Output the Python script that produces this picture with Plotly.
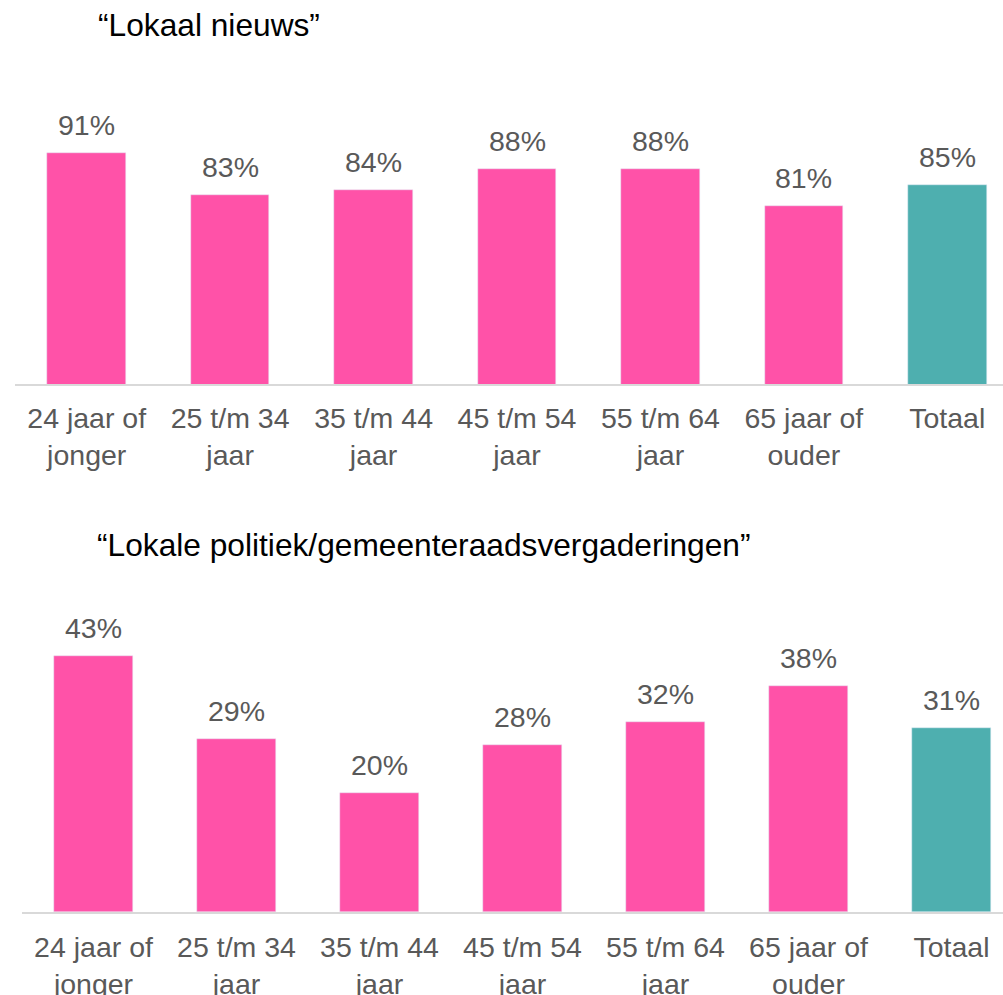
import plotly.graph_objects as go

categories = ["24 jaar of<br>jonger", "25 t/m 34<br>jaar", "35 t/m 44<br>jaar",
              "45 t/m 54<br>jaar", "55 t/m 64<br>jaar", "65 jaar of<br>ouder", "Totaal"]
lokaal_nieuws = [91, 83, 84, 88, 88, 81, 85]
lokale_politiek = [43, 29, 20, 28, 32, 38, 31]
title_top = "“Lokaal nieuws”"
title_bottom = "“Lokale politiek/gemeenteraadsvergaderingen”"

PINK = "#FF52A8"
TEAL = "#4EAFAF"
colors = [PINK] * 6 + [TEAL]

W, H = 1003, 995
FONT = "Liberation Sans, Arial, sans-serif"
GREY = "#595959"

def py(p):
    return 1 - p / H

fig = go.Figure()
fig.add_trace(go.Bar(x=categories, y=lokaal_nieuws, marker_color=colors,
                     width=0.547, xaxis="x", yaxis="y", showlegend=False,
                     hoverinfo="skip"))
fig.add_trace(go.Bar(x=categories, y=lokale_politiek, marker_color=colors,
                     width=0.548, xaxis="x2", yaxis="y2", showlegend=False,
                     hoverinfo="skip"))

annotations = []
for c, v in zip(categories, lokaal_nieuws):
    annotations.append(dict(x=c, y=v, xref="x", yref="y", text=f"{v}%",
                            showarrow=False, yanchor="middle", yshift=28,
                            font=dict(family=FONT, size=28.5, color=GREY)))
for c, v in zip(categories, lokale_politiek):
    annotations.append(dict(x=c, y=v, xref="x2", yref="y2", text=f"{v}%",
                            showarrow=False, yanchor="middle", yshift=28,
                            font=dict(family=FONT, size=28.5, color=GREY)))
annotations.append(dict(x=96 / W, y=py(25), xref="paper", yref="paper",
                        text=title_top, showarrow=False, xanchor="left",
                        yanchor="middle",
                        font=dict(family=FONT, size=31.7, color="#000000")))
annotations.append(dict(x=95 / W, y=py(545), xref="paper", yref="paper",
                        text=title_bottom, showarrow=False, xanchor="left",
                        yanchor="middle",
                        font=dict(family=FONT, size=31.7, color="#000000")))

k_top = 5.27
top_px, base_top = 100, 384
y0_top = 47.2
k_bot = 5.96
bot_top_px, base_bot = 600, 912.3

axis_common = dict(type="category", showgrid=False, zeroline=False,
                   showline=True, linecolor="#D9D9D9", linewidth=2,
                   ticks="", tickfont=dict(family=FONT, size=28.5, color=GREY),
                   ticklabelstandoff=8,
                   automargin=False, fixedrange=True)

fig.update_layout(
    width=W, height=H,
    margin=dict(l=0, r=0, t=0, b=0),
    paper_bgcolor="white", plot_bgcolor="white",
    bargap=0,
    xaxis=dict(domain=[15 / W, 1], range=[-0.5, 6.5 - (1019 - W) / 143.5],
               anchor="y", categoryorder="array", categoryarray=categories,
               **axis_common),
    yaxis=dict(domain=[py(base_top), py(top_px)],
               range=[y0_top, y0_top + (base_top - top_px) / k_top],
               visible=False, fixedrange=True, anchor="x"),
    xaxis2=dict(domain=[22 / W, 1], range=[-0.5, 6.5 - (1023 - W) / 143.0],
                anchor="y2", categoryorder="array", categoryarray=categories,
                **axis_common),
    yaxis2=dict(domain=[py(base_bot), py(bot_top_px)],
                range=[0, (base_bot - bot_top_px) / k_bot],
                visible=False, fixedrange=True, anchor="x2"),
    annotations=annotations,
    font=dict(family=FONT),
)

fig.write_html("out.html", config={"displayModeBar": False},
               post_script="document.body.style.margin='0';document.body.style.overflow='hidden';")
